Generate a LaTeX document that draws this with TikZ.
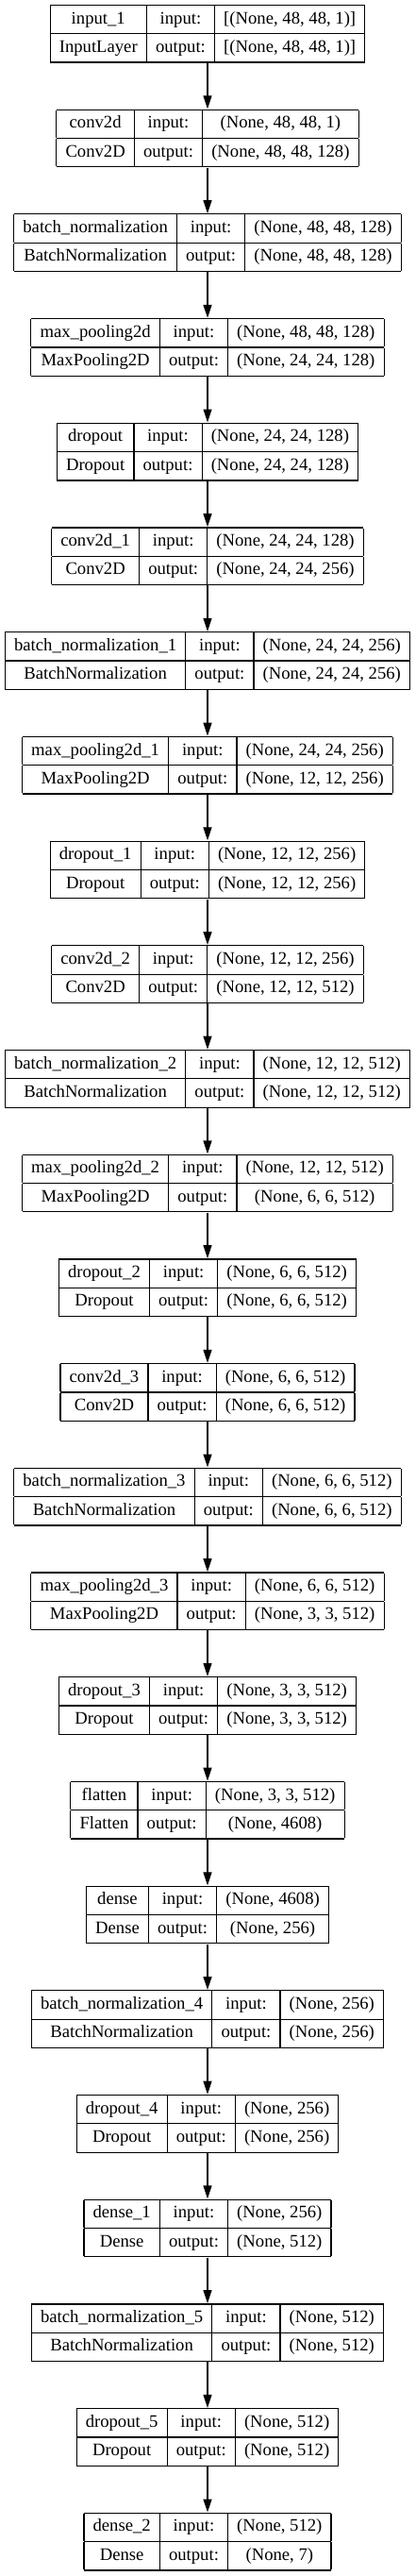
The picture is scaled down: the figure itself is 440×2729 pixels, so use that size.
\documentclass[tikz,border=0pt]{standalone}
\usepackage{fontspec}
\setmainfont{Liberation Serif}
\usetikzlibrary{arrows.meta}
\setlength\tabcolsep{9.65pt}
\setlength\arrayrulewidth{1.2pt}
\newcommand\rs{\rule[-10.1pt]{0pt}{29.1pt}}
\newcommand\klayer[6]{%
  \node[layerbox] (#1) at (220,{-4.7-110.7*#2}) {\begin{tabular}{|c|c|c|}\hline
    \rs #3 & input: & #5\\\hline
    \rs #4 & output: & #6\\\hline
  \end{tabular}};}
\tikzset{
  layerbox/.style={anchor=north, inner sep=0pt, font=\fontsize{18.67}{22}\selectfont},
  conn/.style={-{Triangle[length=14pt,width=9pt]}, line width=1.2pt}
}
\begin{document}
\begin{tikzpicture}[x=1pt,y=1pt]
\useasboundingbox (0,0) rectangle (440,-2729);
\fill[white] (0,0) rectangle (440,-2729);
\klayer{L1}{0}{input\_1}{InputLayer}{[(None, 48, 48, 1)]}{[(None, 48, 48, 1)]}
\klayer{L2}{1}{conv2d}{Conv2D}{(None, 48, 48, 1)}{(None, 48, 48, 128)}
\klayer{L3}{2}{batch\_normalization}{BatchNormalization}{(None, 48, 48, 128)}{(None, 48, 48, 128)}
\klayer{L4}{3}{max\_pooling2d}{MaxPooling2D}{(None, 48, 48, 128)}{(None, 24, 24, 128)}
\klayer{L5}{4}{dropout}{Dropout}{(None, 24, 24, 128)}{(None, 24, 24, 128)}
\klayer{L6}{5}{conv2d\_1}{Conv2D}{(None, 24, 24, 128)}{(None, 24, 24, 256)}
\klayer{L7}{6}{batch\_normalization\_1}{BatchNormalization}{(None, 24, 24, 256)}{(None, 24, 24, 256)}
\klayer{L8}{7}{max\_pooling2d\_1}{MaxPooling2D}{(None, 24, 24, 256)}{(None, 12, 12, 256)}
\klayer{L9}{8}{dropout\_1}{Dropout}{(None, 12, 12, 256)}{(None, 12, 12, 256)}
\klayer{L10}{9}{conv2d\_2}{Conv2D}{(None, 12, 12, 256)}{(None, 12, 12, 512)}
\klayer{L11}{10}{batch\_normalization\_2}{BatchNormalization}{(None, 12, 12, 512)}{(None, 12, 12, 512)}
\klayer{L12}{11}{max\_pooling2d\_2}{MaxPooling2D}{(None, 12, 12, 512)}{(None, 6, 6, 512)}
\klayer{L13}{12}{dropout\_2}{Dropout}{(None, 6, 6, 512)}{(None, 6, 6, 512)}
\klayer{L14}{13}{conv2d\_3}{Conv2D}{(None, 6, 6, 512)}{(None, 6, 6, 512)}
\klayer{L15}{14}{batch\_normalization\_3}{BatchNormalization}{(None, 6, 6, 512)}{(None, 6, 6, 512)}
\klayer{L16}{15}{max\_pooling2d\_3}{MaxPooling2D}{(None, 6, 6, 512)}{(None, 3, 3, 512)}
\klayer{L17}{16}{dropout\_3}{Dropout}{(None, 3, 3, 512)}{(None, 3, 3, 512)}
\klayer{L18}{17}{flatten}{Flatten}{(None, 3, 3, 512)}{(None, 4608)}
\klayer{L19}{18}{dense}{Dense}{(None, 4608)}{(None, 256)}
\klayer{L20}{19}{batch\_normalization\_4}{BatchNormalization}{(None, 256)}{(None, 256)}
\klayer{L21}{20}{dropout\_4}{Dropout}{(None, 256)}{(None, 256)}
\klayer{L22}{21}{dense\_1}{Dense}{(None, 256)}{(None, 512)}
\klayer{L23}{22}{batch\_normalization\_5}{BatchNormalization}{(None, 512)}{(None, 512)}
\klayer{L24}{23}{dropout\_5}{Dropout}{(None, 512)}{(None, 512)}
\klayer{L25}{24}{dense\_2}{Dense}{(None, 512)}{(None, 7)}
\foreach \i [evaluate=\i as \j using int(\i+1)] in {1,...,24}
  \draw[conn] (L\i.south) -- (L\j.north);
\end{tikzpicture}
\end{document}
